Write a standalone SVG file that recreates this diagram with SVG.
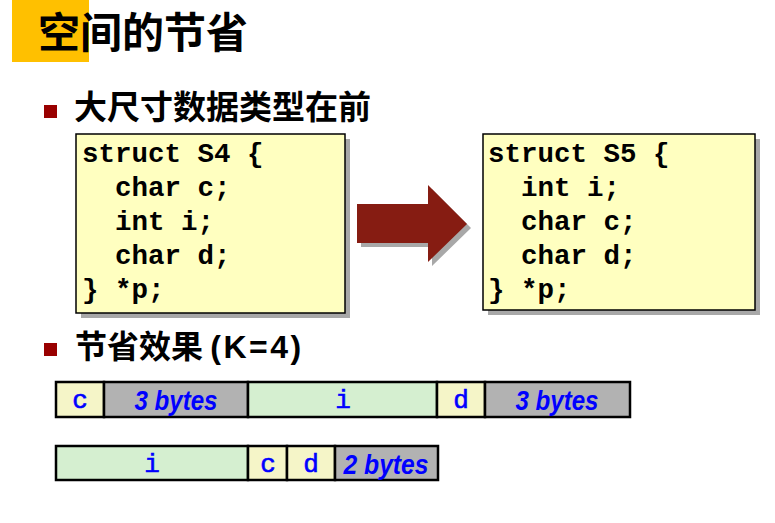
<svg xmlns="http://www.w3.org/2000/svg" width="775" height="523" viewBox="0 0 775 523">
<style>
.cjk{font-family:"Noto Sans CJK SC","Liberation Sans",sans-serif;font-weight:bold;fill:#000}
.code{font-family:"Liberation Mono",monospace;font-weight:bold;font-size:27.5px;fill:#000}
.box{fill:#FFFFC0;stroke:#000;stroke-width:1.5}
.shadow{fill:#A8A8A8}
.bul{fill:#990000}
.cell{stroke:#000;stroke-width:2.5}
.y{fill:#F5F5C8}
.g{fill:#D5EFD0}
.k{fill:#B2B2B2}
.mono{font-family:"Liberation Mono",monospace;font-size:26px;fill:#0000FF;stroke:#0000FF;stroke-width:0.6;text-anchor:middle}
.pad{font-family:"Liberation Sans",sans-serif;font-weight:bold;font-style:italic;font-size:27px;fill:#0000FF;text-anchor:middle}
</style>
<rect width="775" height="523" fill="#fff"/>
<g id="title">
<rect x="12" y="0" width="77" height="62" fill="#FFC000"/>
<text class="cjk" x="38" y="48" font-size="42">空间的节省</text>
</g>
<g id="bullet1">
<rect class="bul" x="44" y="105" width="13" height="13"/>
<text class="cjk" x="74" y="119" font-size="33">大尺寸数据类型在前</text>
</g>
<g id="s4">
<rect class="shadow" x="81" y="139" width="269" height="179"/>
<rect class="box" x="76" y="134" width="269" height="179"/>
<text class="code" x="82" y="162">struct S4 {</text>
<text class="code" x="82" y="196" xml:space="preserve">  char c;</text>
<text class="code" x="82" y="230" xml:space="preserve">  int i;</text>
<text class="code" x="82" y="264" xml:space="preserve">  char d;</text>
<text class="code" x="82" y="298">} *p;</text>
</g>
<g id="connectors">
<polygon points="361,208 432,208 432,189 471,228 432,266 432,247 361,247" fill="#A8A8A8"/>
<polygon points="357,204 428,204 428,185 467,224 428,262 428,243 357,243" fill="#861C12"/>
</g>
<g id="s5">
<rect class="shadow" x="488" y="139" width="272" height="176"/>
<rect class="box" x="483" y="134" width="272" height="176"/>
<text class="code" x="488" y="162">struct S5 {</text>
<text class="code" x="488" y="196" xml:space="preserve">  int i;</text>
<text class="code" x="488" y="230" xml:space="preserve">  char c;</text>
<text class="code" x="488" y="264" xml:space="preserve">  char d;</text>
<text class="code" x="488" y="298">} *p;</text>
</g>
<g id="bullet2">
<rect class="bul" x="44" y="343" width="13" height="13"/>
<text class="cjk" x="75" y="358" font-size="32">节省效果 <tspan font-family="Liberation Sans, sans-serif" letter-spacing="2.5">(K=4)</tspan></text>
</g>
<g id="row1">
<rect class="cell y" x="56" y="382" width="48" height="35"/>
<text class="mono" x="80" y="408">c</text>
<rect class="cell k" x="104" y="382" width="144" height="35"/>
<text class="pad" x="176" y="410" textLength="83" lengthAdjust="spacingAndGlyphs">3 bytes</text>
<rect class="cell g" x="248" y="382" width="189" height="35"/>
<text class="mono" x="343" y="408">i</text>
<rect class="cell y" x="437" y="382" width="48" height="35"/>
<text class="mono" x="461" y="408">d</text>
<rect class="cell k" x="485" y="382" width="145" height="35"/>
<text class="pad" x="557" y="410" textLength="83" lengthAdjust="spacingAndGlyphs">3 bytes</text>
</g>
<g id="row2">
<rect class="cell g" x="56" y="446" width="192" height="34"/>
<text class="mono" x="152" y="472">i</text>
<rect class="cell y" x="248" y="446" width="39" height="34"/>
<text class="mono" x="268" y="472">c</text>
<rect class="cell y" x="287" y="446" width="48" height="34"/>
<text class="mono" x="311" y="472">d</text>
<rect class="cell k" x="335" y="446" width="103" height="34"/>
<text class="pad" x="386" y="474" textLength="85" lengthAdjust="spacingAndGlyphs">2 bytes</text>
</g>
</svg>
